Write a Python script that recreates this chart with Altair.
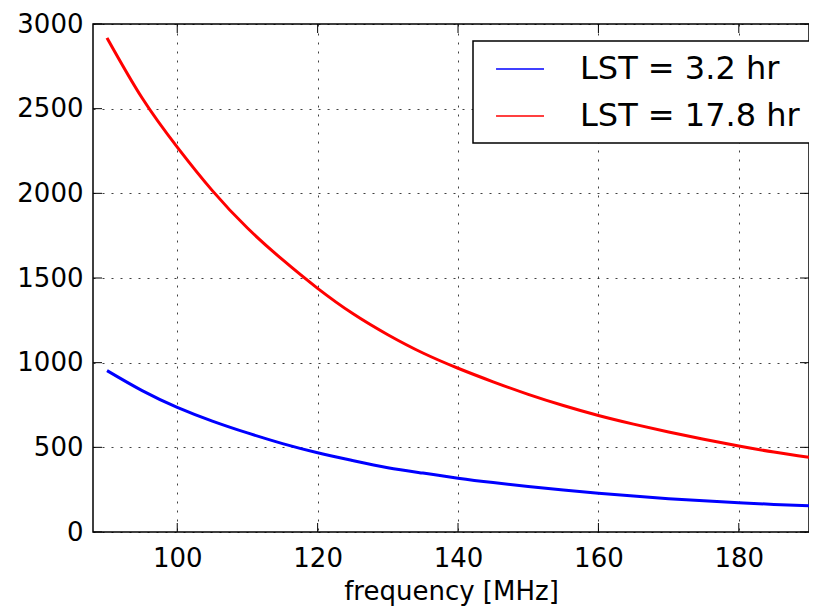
import altair as alt
import pandas as pd

freq = [90, 95, 100, 105, 110, 115, 120, 125, 130, 135, 140, 145, 150, 155, 160, 165, 170, 175, 180, 185, 190]
red_vals = [2918, 2563, 2273, 2016, 1795, 1608, 1439, 1290, 1165, 1057, 967, 887, 813, 747, 688, 637, 591, 548, 508, 472, 441]
blue_vals = [953, 835, 736, 655, 585, 522, 468, 422, 380, 348, 318, 292, 269, 248, 229, 212, 197, 184, 173, 163, 155]
series_names = ["LST = 3.2 hr", "LST = 17.8 hr"]
series_colors = ["#0000ff", "#ff0000"]
x_ticks = [100, 120, 140, 160, 180]
y_ticks = [0, 500, 1000, 1500, 2000, 2500, 3000]

W, H = 716, 508
FONT = "DejaVu Sans"

rows = []
for f, b in zip(freq, blue_vals):
    rows.append({"freq": f, "value": b, "series": series_names[0]})
for f, r in zip(freq, red_vals):
    rows.append({"freq": f, "value": r, "series": series_names[1]})
df = pd.DataFrame(rows)

xt = pd.DataFrame({"freq": x_ticks})
yt = pd.DataFrame({"value": y_ticks})

xscale = alt.Scale(domain=[88, 190], nice=False, zero=False)
yscale = alt.Scale(domain=[0, 3000], nice=False)

lines = alt.Chart(df).mark_line(strokeWidth=3, interpolate="natural").encode(
    x=alt.X("freq:Q", scale=xscale, title="frequency [MHz]",
            axis=alt.Axis(values=x_ticks, format="d")),
    y=alt.Y("value:Q", scale=yscale, title=None,
            axis=alt.Axis(values=y_ticks, format="d")),
    color=alt.Color("series:N",
                    scale=alt.Scale(domain=series_names, range=series_colors),
                    sort=series_names,
                    legend=alt.Legend(orient="none", legendX=380, legendY=17, title=None,
                                      symbolType="M-0.31,0H2.69", symbolSize=1024,
                                      symbolStrokeWidth=1.5, labelFontSize=32,
                                      labelFont=FONT, labelOffset=62, padding=11,
                                      rowPadding=14, strokeColor="black",
                                      fillColor="white", labelColor="black",
                                      labelLimit=0)),
)

tick_len = 9
bx = alt.Chart(xt).mark_rule(color="black", strokeWidth=1).encode(
    x="freq:Q", y=alt.value(H), y2=alt.value(H - tick_len))
tx = alt.Chart(xt).mark_rule(color="black", strokeWidth=1).encode(
    x="freq:Q", y=alt.value(0), y2=alt.value(tick_len))
ly = alt.Chart(yt).mark_rule(color="black", strokeWidth=1).encode(
    y="value:Q", x=alt.value(0), x2=alt.value(tick_len))
ry = alt.Chart(yt).mark_rule(color="black", strokeWidth=1).encode(
    y="value:Q", x=alt.value(W), x2=alt.value(W - tick_len))

chart = alt.layer(bx, tx, ly, ry, lines).properties(
    width=W, height=H,
    autosize=alt.AutoSizeParams(type="none"),
    padding={"left": 85, "top": 16, "right": 0, "bottom": 74},
).configure_view(
    stroke="black", strokeWidth=1.5
).configure_axis(
    domain=False, ticks=False,
    grid=True, gridColor="black", gridOpacity=0.75, gridDash=[2, 7], gridWidth=1,
    labelFont=FONT, labelFontSize=26, labelColor="black",
    titleFont=FONT, titleFontSize=26, titleColor="black", titleFontWeight="normal",
).configure_axisX(
    labelPadding=13, titlePadding=7
).configure_axisY(
    labelPadding=10
).configure_legend(
    strokeWidth=1.5
)

chart.save("out.html", embed_options={"renderer": "svg", "actions": False})
